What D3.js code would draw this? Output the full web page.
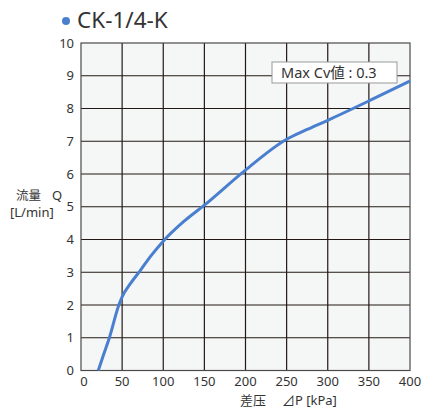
<!DOCTYPE html>
<html lang="ja">
<head>
<meta charset="UTF-8">
<script src="https://d3js.org/d3.v7.min.js"></script>
<style>
body {margin: 0; background: white;}
svg {display: block; font-family: "Noto Sans", "Noto Sans CJK JP", sans-serif;}
</style>
</head>
<body>
<svg width="421" height="410"></svg>
<script>
// flow curve (kPa, L/min)
var pressure = [21, 27, 34.5, 46, 50, 60, 72, 85, 100, 125, 150, 200, 250, 275, 300, 350, 400];
var flow = [0, 0.45, 1, 2, 2.25, 2.65, 3.05, 3.5, 3.95, 4.55, 5.05, 6.12, 7.06, 7.36, 7.64, 8.23, 8.84];
var xTicks = [0, 50, 100, 150, 200, 250, 300, 350, 400];
var yTicks = [0, 1, 2, 3, 4, 5, 6, 7, 8, 9, 10];
var title = "CK-1/4-K";
var note = "Max Cv値 : 0.3";

var svg = d3.select("svg");
var xs = d3.scaleLinear().domain([0, 400]).range([81, 410]);
var ys = d3.scaleLinear().domain([0, 10]).range([370.5, 43]);

// plot background
svg.append("rect")
  .attr("x", xs(0)).attr("y", ys(10))
  .attr("width", xs(400) - xs(0)).attr("height", ys(0) - ys(10))
  .attr("fill", "#f5f7f7");

// grid
svg.append("g").selectAll("line")
  .data(xTicks.slice(1, -1))
  .enter().append("line")
  .attr("x1", d => xs(d)).attr("x2", d => xs(d))
  .attr("y1", ys(0)).attr("y2", ys(10))
  .attr("stroke", "#231815").attr("stroke-width", 1.2);

svg.append("g").selectAll("line")
  .data(yTicks.slice(1, -1))
  .enter().append("line")
  .attr("x1", xs(0)).attr("x2", xs(400))
  .attr("y1", d => ys(d)).attr("y2", d => ys(d))
  .attr("stroke", "#231815").attr("stroke-width", 1.2);

// frame
svg.append("rect")
  .attr("x", xs(0)).attr("y", ys(10))
  .attr("width", xs(400) - xs(0)).attr("height", ys(0) - ys(10))
  .attr("fill", "none").attr("stroke", "#4a4a4a").attr("stroke-width", 1.2);

// tick labels
svg.append("g").selectAll("text")
  .data(yTicks)
  .enter().append("text")
  .attr("x", 74).attr("y", d => ys(d) + 4.5)
  .attr("text-anchor", "end")
  .attr("font-size", 13).attr("fill", "#333")
  .text(d => d);

svg.append("g").selectAll("text")
  .data(xTicks)
  .enter().append("text")
  .attr("x", d => d == 0 ? xs(d) + 3 : xs(d)).attr("y", 386)
  .attr("text-anchor", "middle")
  .attr("font-size", 13).attr("fill", "#333")
  .text(d => d);

// axis titles
svg.append("text")
  .attr("x", 240).attr("y", 405)
  .attr("font-size", 13).attr("fill", "#333")
  .text("差压");
svg.append("text")
  .attr("x", 282).attr("y", 405)
  .attr("font-size", 13).attr("fill", "#333")
  .text("⊿P [kPa]");

svg.append("text")
  .attr("x", 16).attr("y", 200)
  .attr("font-size", 12.5).attr("fill", "#333")
  .text("流量");
svg.append("text")
  .attr("x", 52).attr("y", 200)
  .attr("font-size", 13).attr("fill", "#333")
  .text("Q");
svg.append("text")
  .attr("x", 10).attr("y", 217)
  .attr("font-size", 13).attr("fill", "#333")
  .text("[L/min]");

// curve
var line = d3.line()
  .x((d, i) => xs(pressure[i]))
  .y((d, i) => ys(flow[i]))
  .curve(d3.curveMonotoneX);

svg.append("path")
  .datum(flow)
  .attr("d", line)
  .attr("fill", "none")
  .attr("stroke", "#4a7fcf")
  .attr("stroke-width", 3)
  .attr("stroke-linejoin", "round");

// note box
svg.append("rect")
  .attr("x", 272).attr("y", 62).attr("width", 125).attr("height", 21)
  .attr("fill", "white").attr("stroke", "#999").attr("stroke-width", 1);
svg.append("text")
  .attr("x", 281).attr("y", 78)
  .attr("font-size", 14.5).attr("fill", "#333")
  .text(note);

// title
svg.append("circle")
  .attr("cx", 66).attr("cy", 21).attr("r", 4)
  .attr("fill", "#4a7fcf");
svg.append("text")
  .attr("x", 77).attr("y", 28)
  .attr("font-size", 22.5).attr("fill", "#333")
  .text(title);
</script>
</body>
</html>
